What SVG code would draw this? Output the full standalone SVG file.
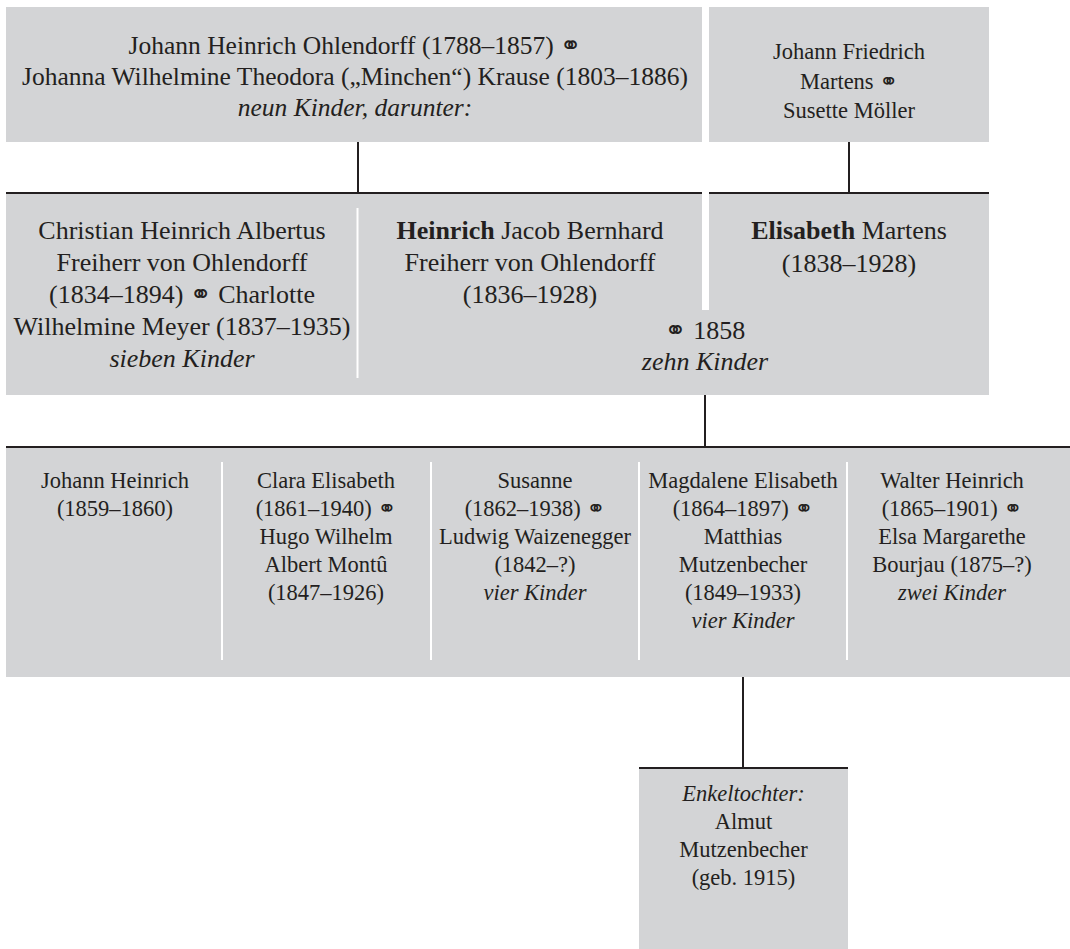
<svg xmlns="http://www.w3.org/2000/svg" width="1070" height="949" viewBox="0 0 1070 949">
<style>
.box{fill:#d3d4d6}
.sep{stroke:#ffffff;stroke-width:2}
.conn line{stroke:#231f20;stroke-width:2}
text{font-family:"Liberation Serif","DejaVu Sans",serif;fill:#231f20;text-anchor:middle}
.big{font-size:26px}
.tl{font-size:25.5px}
.sm{font-size:22.5px}
.it{font-style:italic}
.b{font-weight:bold}
.m{font-family:"DejaVu Sans",sans-serif}
</style>
<rect width="1070" height="949" fill="#ffffff"/>

<g id="node-ohlendorff-krause">
<rect class="box" x="6" y="7" width="696" height="135"/>
<text class="tl" x="355" y="54">Johann Heinrich Ohlendorff (1788–1857) <tspan class="m">⚭</tspan></text>
<text class="tl" x="355" y="85">Johanna Wilhelmine Theodora („Minchen“) Krause (1803–1886)</text>
<text class="tl it" x="355" y="116">neun Kinder, darunter:</text>
</g>

<g id="node-martens-moeller">
<rect class="box" x="709" y="7" width="280" height="135"/>
<text class="sm" x="849" y="59">Johann Friedrich</text>
<text class="sm" x="849" y="89">Martens <tspan class="m">⚭</tspan></text>
<text class="sm" x="849" y="118">Susette Möller</text>
</g>

<g id="row2-bg">
<rect class="box" x="6" y="193" width="983" height="202"/>
<rect x="702" y="193" width="7" height="117" fill="#ffffff"/>
<line class="sep" x1="357.5" y1="208" x2="357.5" y2="378"/>
</g>

<g id="node-christian">
<text class="big" x="182" y="239">Christian Heinrich Albertus</text>
<text class="big" x="182" y="271">Freiherr von Ohlendorff</text>
<text class="big" x="182" y="303">(1834–1894) <tspan class="m">⚭</tspan> Charlotte</text>
<text class="big" x="182" y="335">Wilhelmine Meyer (1837–1935)</text>
<text class="big it" x="182" y="367">sieben Kinder</text>
</g>

<g id="node-heinrich">
<text class="big" x="530" y="239"><tspan class="b">Heinrich</tspan> Jacob Bernhard</text>
<text class="big" x="530" y="271">Freiherr von Ohlendorff</text>
<text class="big" x="530" y="303">(1836–1928)</text>
</g>

<g id="node-marriage-1858">
<text class="big" x="705" y="339"><tspan class="m">⚭</tspan> 1858</text>
<text class="big it" x="705" y="370">zehn Kinder</text>
</g>

<g id="node-elisabeth">
<text class="big" x="849" y="239"><tspan class="b">Elisabeth</tspan> Martens</text>
<text class="big" x="849" y="272">(1838–1928)</text>
</g>

<g id="row3-bg">
<rect class="box" x="6" y="447" width="1064" height="230"/>
<line class="sep" x1="222" y1="462" x2="222" y2="660"/>
<line class="sep" x1="431" y1="462" x2="431" y2="660"/>
<line class="sep" x1="639" y1="462" x2="639" y2="660"/>
<line class="sep" x1="847" y1="462" x2="847" y2="660"/>
</g>

<g id="node-johann-heinrich">
<text class="sm" x="115" y="488">Johann Heinrich</text>
<text class="sm" x="115" y="516">(1859–1860)</text>
</g>

<g id="node-clara">
<text class="sm" x="326" y="488">Clara Elisabeth</text>
<text class="sm" x="326" y="516">(1861–1940) <tspan class="m">⚭</tspan></text>
<text class="sm" x="326" y="544">Hugo Wilhelm</text>
<text class="sm" x="326" y="572">Albert Montû</text>
<text class="sm" x="326" y="600">(1847–1926)</text>
</g>

<g id="node-susanne">
<text class="sm" x="535" y="488">Susanne</text>
<text class="sm" x="535" y="516">(1862–1938) <tspan class="m">⚭</tspan></text>
<text class="sm" x="535" y="544">Ludwig Waizenegger</text>
<text class="sm" x="535" y="572">(1842–?)</text>
<text class="sm it" x="535" y="600">vier Kinder</text>
</g>

<g id="node-magdalene">
<text class="sm" x="743" y="488">Magdalene Elisabeth</text>
<text class="sm" x="743" y="516">(1864–1897) <tspan class="m">⚭</tspan></text>
<text class="sm" x="743" y="544">Matthias</text>
<text class="sm" x="743" y="572">Mutzenbecher</text>
<text class="sm" x="743" y="600">(1849–1933)</text>
<text class="sm it" x="743" y="628">vier Kinder</text>
</g>

<g id="node-walter">
<text class="sm" x="952" y="488">Walter Heinrich</text>
<text class="sm" x="952" y="516">(1865–1901) <tspan class="m">⚭</tspan></text>
<text class="sm" x="952" y="544">Elsa Margarethe</text>
<text class="sm" x="952" y="572">Bourjau (1875–?)</text>
<text class="sm it" x="952" y="600">zwei Kinder</text>
</g>

<g id="node-almut">
<rect class="box" x="639" y="768" width="209" height="181"/>
<text class="sm it" x="743.5" y="801">Enkeltochter:</text>
<text class="sm" x="743.5" y="829">Almut</text>
<text class="sm" x="743.5" y="857">Mutzenbecher</text>
<text class="sm" x="743.5" y="885">(geb. 1915)</text>
</g>

<g id="connectors" class="conn">
<line x1="358" y1="142" x2="358" y2="193"/>
<line x1="849" y1="142" x2="849" y2="193"/>
<line x1="6" y1="193" x2="702" y2="193"/>
<line x1="709" y1="193" x2="989" y2="193"/>
<line x1="705" y1="395" x2="705" y2="447"/>
<line x1="6" y1="447" x2="1070" y2="447"/>
<line x1="743" y1="677" x2="743" y2="768"/>
<line x1="639" y1="768" x2="848" y2="768"/>
</g>
</svg>
